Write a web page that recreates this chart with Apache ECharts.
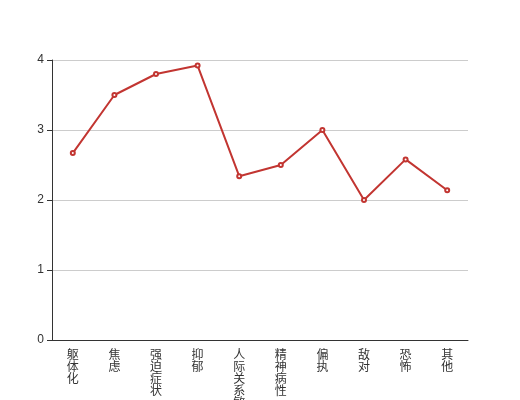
<!DOCTYPE html>
<html>
<head>
<meta charset="utf-8">
<script src="https://cdn.jsdelivr.net/npm/echarts@6/dist/echarts.min.js"></script>
<style>html,body{margin:0;padding:0;background:#fff}#c{width:520px;height:400px}</style>
</head>
<body>
<div id="c"></div>
<script>
var categories = ['躯体化','焦虑','强迫症状','抑郁','人际关系敏感','精神病性','偏执','敌对','恐怖','其他'];
var values = [2.67, 3.50, 3.80, 3.92, 2.34, 2.50, 3.00, 2.00, 2.58, 2.14];
var yTicks = [0, 1, 2, 3, 4];

var chart = echarts.init(document.getElementById('c'));
chart.setOption({
  animation: false,
  grid: {left: 52, right: 52, top: 60, bottom: 60, containLabel: false, outerBoundsMode: 'none'},
  xAxis: {
    type: 'category',
    data: categories,
    axisLine: {lineStyle: {color: '#333'}},
    axisTick: {lineStyle: {color: '#333'}},
    axisLabel: {
      interval: 0,
      color: '#333',
      fontSize: 12,
      lineHeight: 12,
      fontFamily: 'Noto Sans CJK SC',
      formatter: function (v) { return v.split('').join('\n'); }
    }
  },
  yAxis: {
    type: 'value',
    min: yTicks[0],
    max: yTicks[yTicks.length - 1],
    interval: 1,
    axisLine: {show: true, lineStyle: {color: '#333'}},
    axisTick: {show: true, lineStyle: {color: '#333'}},
    axisLabel: {color: '#333', fontSize: 12},
    splitLine: {lineStyle: {color: '#ccc'}}
  },
  series: [{
    type: 'line',
    data: values,
    symbol: 'emptyCircle',
    symbolSize: 4,
    itemStyle: {color: '#c23531'},
    lineStyle: {color: '#c23531', width: 2}
  }]
});
</script>
</body>
</html>
